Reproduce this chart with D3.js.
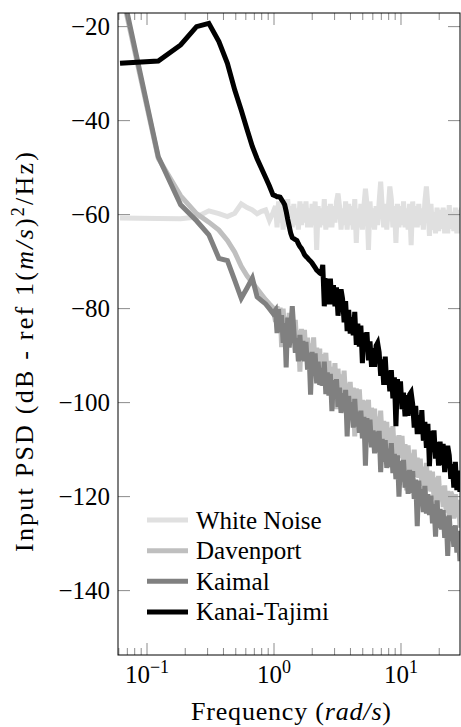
<!DOCTYPE html>
<html>
<head>
<meta charset="utf-8">
<script src="https://cdn.jsdelivr.net/npm/d3@7"></script>
<style>
body { margin: 0; background: #fff; }
text { font-family: "Liberation Serif", serif; fill: #000; }
</style>
</head>
<body>
<div id="psd"></div>
<script>
// Frequencies (rad/s)
var freq = [0.0613, 0.1227, 0.184, 0.2454, 0.3068, 0.3682, 0.4295, 0.4909, 0.5523, 0.6136, 0.675, 0.7363, 0.7977, 0.8591, 0.9204, 0.9818,
    1.028, 1.057, 1.086, 1.117, 1.148, 1.180, 1.213, 1.247, 1.282, 1.318,
    1.355, 1.393, 1.432, 1.472, 1.514, 1.556, 1.600, 1.644, 1.690, 1.738,
    1.786, 1.837, 1.888, 1.941, 1.995, 2.051, 2.109, 2.168, 2.228, 2.291,
    2.355, 2.421, 2.489, 2.559, 2.630, 2.704, 2.780, 2.858, 2.938, 3.020,
    3.105, 3.192, 3.281, 3.373, 3.467, 3.565, 3.664, 3.767, 3.873, 3.981,
    4.093, 4.207, 4.325, 4.446, 4.571, 4.699, 4.831, 4.966, 5.105, 5.248,
    5.395, 5.546, 5.702, 5.861, 6.026, 6.194, 6.368, 6.546, 6.730, 6.918,
    7.112, 7.311, 7.516, 7.727, 7.943, 8.166, 8.395, 8.630, 8.872, 9.120,
    9.376, 9.638, 9.908, 10.19, 10.47, 10.76, 11.07, 11.38, 11.69, 12.02,
    12.36, 12.71, 13.06, 13.43, 13.80, 14.19, 14.59, 15.00, 15.42, 15.85,
    16.29, 16.75, 17.22, 17.70, 18.20, 18.71, 19.23, 19.77, 20.32, 20.89,
    21.48, 22.08, 22.70, 23.33, 23.99, 24.66, 25.35, 26.06, 26.79, 27.54,
    28.31, 29.11, 29.92];

// PSD values in dB, one per frequency
var whiteNoise = [-60.7, -60.8, -60.9, -60.5, -59.2, -59.8, -60.4, -59.7, -57.7, -58.5, -59.0, -59.8, -59.3, -59.0, -61.2, -59.6,
    -58.2, -62.7, -57.2, -61.7, -57.7, -63.2, -58.7, -62.2, -56.7, -62.7,
    -58.2, -62.7, -57.7, -62.2, -58.7, -63.2, -57.2, -62.2, -57.7, -61.7,
    -57.2, -62.7, -58.7, -62.7, -57.7, -62.2, -57.2, -67.5, -58.2, -62.7,
    -58.7, -62.2, -56.7, -63.2, -58.2, -62.7, -57.7, -62.7, -58.2, -61.7,
    -57.2, -55.5, -58.2, -63.2, -58.7, -62.2, -57.2, -63.2, -57.7, -62.2,
    -58.2, -63.2, -56.7, -66.0, -58.7, -62.7, -57.7, -63.2, -58.2, -54.5,
    -57.7, -67.5, -57.2, -62.7, -58.7, -63.2, -58.2, -62.2, -57.2, -53.0,
    -58.2, -62.7, -57.7, -63.2, -58.7, -54.0, -56.7, -62.7, -58.2, -66.0,
    -57.7, -62.7, -58.2, -62.2, -57.2, -62.7, -58.7, -63.2, -57.7, -66.5,
    -57.2, -62.7, -58.2, -62.7, -57.7, -62.2, -58.7, -63.2, -57.2, -54.0,
    -58.2, -64.5, -57.7, -63.2, -59.5, -64.0, -58.5, -63.5, -59.0, -63.0,
    -58.5, -64.0, -59.0, -64.0, -58.0, -63.0, -59.5, -63.5, -58.5, -64.0,
    -59.0, -64.0, -58.5];

var davenport = [-11.0, -48.0, -56.0, -59.8, -61.6, -63.3, -65.5, -68.0, -71.0, -73.0, -74.5, -75.8, -77.0, -78.1, -79.0, -79.8,
    -82.8, -79.5, -84.0, -79.8, -88.2, -80.0, -84.9, -81.7, -86.6, -80.9,
    -86.3, -82.2, -86.5, -82.4, -88.2, -84.6, -93.4, -84.3, -89.1, -84.5,
    -90.8, -86.2, -91.0, -87.4, -91.3, -86.1, -93.0, -88.3, -93.2, -88.5,
    -96.4, -89.7, -93.6, -89.4, -95.3, -91.1, -96.5, -92.4, -96.2, -91.6,
    -101.4, -92.8, -97.6, -94.0, -99.3, -93.2, -99.0, -95.9, -100.3, -95.6,
    -101.5, -96.8, -107.2, -97.0, -101.9, -97.2, -103.1, -99.4, -104.3, -99.6,
    -104.0, -99.4, -108.2, -101.1, -105.9, -101.3, -107.1, -103.0, -106.8, -101.7,
    -108.0, -103.9, -109.2, -104.1, -113.0, -105.3, -109.7, -105.0, -110.9, -107.2,
    -112.1, -106.9, -111.8, -107.1, -113.0, -108.8, -118.7, -109.1, -113.9, -110.8,
    -115.6, -110.0, -115.8, -111.7, -116.0, -111.9, -117.7, -113.6, -120.5, -112.8,
    -118.7, -114.5, -118.9, -114.7, -120.6, -115.9, -124.3, -115.6, -121.0, -117.8,
    -122.2, -117.6, -123.4, -118.8, -125.1, -119.0, -119.8, -124.7, -119.5, -124.4,
    -120.7, -126.6, -122.4];

var kaimal = [-10.0, -47.7, -57.9, -61.3, -64.3, -69.3, -69.8, -74.0, -77.8, -75.6, -73.5, -77.5, -78.3, -79.0, -80.0, -81.0,
    -80.3, -85.2, -80.1, -85.0, -81.4, -87.3, -83.1, -92.5, -81.9, -88.3,
    -84.2, -79.5, -84.5, -89.4, -86.3, -91.2, -85.6, -91.0, -86.9, -91.2,
    -87.1, -93.0, -89.4, -98.3, -89.2, -94.1, -89.5, -95.9, -91.3, -96.2,
    -92.6, -96.4, -91.3, -98.2, -93.6, -98.5, -93.9, -101.8, -95.2, -99.1,
    -95.0, -100.9, -96.8, -102.2, -98.0, -101.9, -97.3, -107.2, -98.6, -103.5,
    -99.9, -105.3, -99.2, -105.1, -102.0, -106.4, -101.7, -107.6, -103.0, -113.4,
    -103.3, -108.2, -103.6, -109.5, -105.9, -110.8, -106.2, -110.6, -106.0, -114.8,
    -107.7, -112.6, -108.0, -113.9, -109.8, -113.7, -108.6, -115.0, -110.9, -116.3,
    -111.2, -120.0, -112.4, -116.8, -112.2, -118.1, -114.5, -119.4, -114.3, -119.2,
    -114.6, -120.5, -116.4, -126.3, -116.6, -121.5, -118.4, -123.3, -117.7, -123.6,
    -119.5, -123.9, -119.8, -125.7, -121.6, -128.5, -120.8, -126.7, -122.6, -127.0,
    -122.9, -128.8, -124.2, -132.6, -124.0, -129.4, -126.3, -130.7, -126.1, -131.9,
    -127.3, -133.7, -127.6];

var kanaiTajimi = [-27.8, -27.3, -23.9, -20.0, -19.3, -23.2, -27.8, -33.5, -37.8, -41.9, -45.5, -48.1, -50.2, -52.1, -53.9, -55.8,
    -56.0, -56.2, -56.2, -56.3, -56.8, -57.3, -57.9, -59.3, -61.0, -62.5,
    -64.0, -64.9, -65.1, -65.3, -65.5, -66.2, -66.8, -67.2, -67.8, -68.5,
    -68.9, -69.2, -69.6, -69.9, -70.3, -70.8, -71.3, -71.8, -72.1, -72.4,
    -72.6, -70.7, -79.5, -74.0, -74.1, -79.1, -73.6, -79.1, -75.0, -79.5,
    -75.5, -81.5, -78.0, -75.9, -77.9, -82.9, -78.4, -84.8, -80.3, -85.3,
    -81.8, -85.7, -80.7, -87.7, -83.2, -88.1, -83.6, -91.6, -85.1, -89.0,
    -85.0, -91.0, -87.0, -92.4, -88.4, -92.4, -87.9, -87.3, -89.3, -94.3,
    -90.8, -96.2, -90.2, -96.2, -93.2, -97.6, -93.1, -99.1, -94.6, -105.0,
    -95.0, -100.0, -95.5, -101.4, -97.9, -102.9, -98.4, -102.8, -98.3, -97.8,
    -100.3, -105.3, -100.7, -106.7, -102.7, -106.7, -101.6, -108.1, -104.1, -109.6,
    -104.5, -113.5, -106.0, -110.5, -105.9, -111.9, -108.4, -113.4, -108.3, -113.3,
    -108.8, -114.8, -110.7, -109.2, -111.2, -116.2, -113.1, -118.1, -112.6, -118.6,
    -114.5, -119.0, -115.0];

var seriesNames = ["White Noise", "Davenport", "Kaimal", "Kanai-Tajimi"];
var seriesColors = ["#e0e0e0", "#bfbfbf", "#808080", "#000000"];
var yTicks = [-20, -40, -60, -80, -100, -120, -140];
var xTicks = [0.1, 1, 10];
var xTickExp = ["\u22121", "0", "1"];

var margin = { top: 13, right: 1, bottom: 72, left: 118 },
    width = 461 - margin.left - margin.right,
    height = 727 - margin.top - margin.bottom;

var svg = d3.select("#psd")
    .append("svg")
    .attr("width", width + margin.left + margin.right)
    .attr("height", height + margin.top + margin.bottom)
    .append("g")
    .attr("transform", "translate(" + margin.left + "," + margin.top + ")");

var x = d3.scaleLog()
    .domain([0.0591, 29.15])
    .range([0, width]);

var y = d3.scaleLinear()
    .domain([-153.7, -17.1])
    .range([height, 0]);

svg.append("clipPath")
    .attr("id", "clip")
    .append("rect")
    .attr("width", width)
    .attr("height", height);

var line = d3.line()
    .x(function(d) { return x(d.f); })
    .y(function(d) { return y(d.v); });

var allSeries = [whiteNoise, davenport, kaimal, kanaiTajimi];

allSeries.forEach(function(vals, k) {
    var pts = freq.map(function(f, i) { return { f: f, v: vals[i] }; });
    svg.append("path")
        .datum(pts)
        .attr("clip-path", "url(#clip)")
        .attr("fill", "none")
        .attr("stroke", seriesColors[k])
        .attr("stroke-width", 5)
        .attr("stroke-linejoin", "miter")
        .attr("d", line);
});

// ticks (inside, on all four sides)
var tickColor = "#8c8c8c";
x.ticks().forEach(function(t) {
    var major = Math.abs(Math.log10(t) - Math.round(Math.log10(t))) < 1e-6;
    var len = major ? 12 : 7;
    svg.append("line").attr("x1", x(t)).attr("x2", x(t)).attr("y1", height).attr("y2", height - len)
        .attr("stroke", tickColor).attr("stroke-width", 1);
    svg.append("line").attr("x1", x(t)).attr("x2", x(t)).attr("y1", 0).attr("y2", len)
        .attr("stroke", tickColor).attr("stroke-width", 1);
});

yTicks.forEach(function(t) {
    svg.append("line").attr("x1", 0).attr("x2", 12).attr("y1", y(t)).attr("y2", y(t))
        .attr("stroke", tickColor).attr("stroke-width", 1);
    svg.append("line").attr("x1", width - 12).attr("x2", width).attr("y1", y(t)).attr("y2", y(t))
        .attr("stroke", tickColor).attr("stroke-width", 1);
    svg.append("text")
        .attr("x", -8)
        .attr("y", y(t))
        .attr("dy", "0.33em")
        .style("text-anchor", "end")
        .style("font-size", "25px")
        .text(String(t).replace("-", "\u2212"));
});

// x tick labels 10^n
xTicks.forEach(function(t, i) {
    var lab = svg.append("text")
        .attr("x", x(t))
        .attr("y", height + 28)
        .style("text-anchor", "middle")
        .style("font-size", "25px");
    lab.append("tspan").text("10");
    lab.append("tspan")
        .attr("dy", -10)
        .style("font-size", "18px")
        .text(xTickExp[i]);
});

// axis box
svg.append("rect")
    .attr("width", width)
    .attr("height", height)
    .attr("fill", "none")
    .attr("stroke", "#000")
    .attr("stroke-width", 1);

// axis labels
var xl = svg.append("text")
    .attr("x", width / 2 + 2)
    .attr("y", height + 65)
    .attr("textLength", 200)
    .attr("lengthAdjust", "spacing")
    .style("text-anchor", "middle")
    .style("font-size", "26px");
xl.append("tspan").text("Frequency (");
xl.append("tspan").style("font-style", "italic").text("rad/s");
xl.append("tspan").text(")");

var yl = svg.append("text")
    .attr("transform", "translate(-85," + (height / 2 + 18) + ") rotate(-90)")
    .attr("textLength", 400)
    .attr("lengthAdjust", "spacing")
    .style("text-anchor", "middle")
    .style("font-size", "26px");
yl.append("tspan").text("Input PSD (dB - ref 1(");
yl.append("tspan").style("font-style", "italic").text("m/s");
yl.append("tspan").text(")");
yl.append("tspan").attr("dy", -9).style("font-size", "18px").text("2");
yl.append("tspan").attr("dy", 9).text("/Hz)");

// legend
var legend = svg.append("g")
    .attr("transform", "translate(29," + y(-125) + ")");
seriesNames.forEach(function(name, i) {
    var ly = i * 30.6;
    legend.append("line")
        .attr("x1", 0).attr("x2", 41)
        .attr("y1", ly).attr("y2", ly)
        .attr("stroke", seriesColors[i])
        .attr("stroke-width", 5);
    legend.append("text")
        .attr("x", 49)
        .attr("y", ly + 8.5)
        .style("font-size", "25px")
        .text(name);
});
</script>
</body>
</html>
